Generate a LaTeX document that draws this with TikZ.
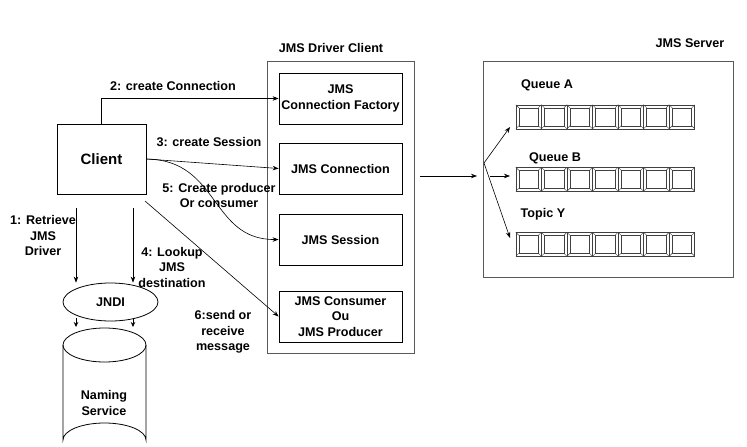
\documentclass[tikz,border=0pt]{standalone}
\usepackage{fontspec}
\setmainfont{Liberation Sans}
\usetikzlibrary{arrows.meta,shapes.geometric,calc}
\begin{document}
\begin{tikzpicture}[x=1pt,y=-1pt,
  lbl/.style={font=\bfseries\fontsize{12.6}{15.5}\selectfont,align=center,inner sep=0pt},
  boxn/.style={draw,line width=0.8pt,minimum width=123pt,minimum height=51pt,inner sep=0pt,align=center,font=\bfseries\fontsize{12.6}{15.5}\selectfont},
  outer/.style={draw=black!65,line width=0.8pt,inner sep=0pt},
  conn/.style={line width=0.6pt,-{Stealth[length=6pt,width=4.5pt]}},
  tiny/.style={line width=0.6pt,-{Stealth[length=5pt,width=4.5pt]}},
  qbox/.style={minimum width=179pt,minimum height=24pt,inner sep=0pt}
]
\useasboundingbox (0,0) rectangle (747,447);
\fill[white] (0,0) rectangle (747,447);

% Client
\node[draw,line width=0.8pt,minimum width=89pt,minimum height=70pt,inner sep=0pt,font=\bfseries\fontsize{15}{18}\selectfont] (client) at (101.5,159) {Client};

% JMS driver client
\node[outer,minimum width=147pt,minimum height=292pt] (driver) at (340.5,207) {};
\node[lbl] (drvlbl) at (331,48) {JMS Driver Client};
\node[boxn] (factory) at (340.5,98.5) {JMS\\Connection Factory};
\node[boxn] (conn) at (340.5,168.5) {JMS Connection};
\node[boxn] (session) at (340.5,239.5) {JMS Session};
\node[boxn] (consumer) at (340.5,316.5) {JMS Consumer\\Ou\\JMS Producer};

% JMS server
\node[outer,minimum width=250pt,minimum height=216pt] (server) at (608,169) {};
\node[lbl] (srvlbl) at (690,43) {JMS Server};
\node[qbox] (qA) at (605.5,117) {};
\node[qbox] (qB) at (605.5,179.5) {};
\node[qbox] (qT) at (605.5,244.5) {};
\node[lbl] (qAl) at (547,85) {Queue A};
\node[lbl] (qBl) at (555,158) {Queue B};
\node[lbl] (qTl) at (543,214) {Topic Y};

\foreach \q in {qA,qB,qT}{
  \foreach \i in {0,...,6}{
    \path ($(\q.north west)+(\i*25.57,0)$) coordinate (o1) ++(25.57,24) coordinate (o2);
    \path ($(o1)+(3,3)$) coordinate (i1) ($(o2)+(-3,-3)$) coordinate (i2);
    \draw[black!75,line width=0.6pt] (o1) rectangle (o2);
    \draw[black!75,line width=0.6pt] (i1) rectangle (i2);
    \draw[black!75,line width=0.4pt] (o1) -- (i1) (o2) -- (i2)
      (o1 -| o2) -- (i1 -| i2) (o1 |- o2) -- (i1 |- i2);
  }
}

% JNDI and naming service
\node[draw,ellipse,line width=0.8pt,minimum width=95pt,minimum height=38pt,inner sep=0pt,font=\bfseries\fontsize{12.6}{15.5}\selectfont] (jndi) at (110.5,302) {JNDI};
\draw[line width=0.8pt] (63,345) arc[start angle=180,end angle=540,x radius=41.5pt,y radius=-17pt];
\draw[line width=0.8pt] (63,345) -- (63,440) arc[start angle=180,end angle=360,x radius=41.5pt,y radius=-17pt] -- (146,345);
\node[lbl] (naming) at (104,403) {Naming\\Service};

% coordinates
\coordinate (c1) at (76,208);
\coordinate (c4) at (133,208);
\coordinate (c6) at (145,201);
\coordinate (cylA) at (76,327);
\coordinate (cylB) at (133,327);
\coordinate (dout) at (420,176);
\coordinate (sin) at (477,176);
\coordinate (fork) at (484,163);
\coordinate (bstart) at (490,176);
\coordinate (tA) at (510,127);
\coordinate (tB) at (510,176);
\coordinate (tT) at (510,238);

% connectors
\draw[conn] (client.north) |- (factory.west);
\draw[conn] (client.east) -- (conn.west);
\draw[conn] (client.east) .. controls (220,160) and (210,240) .. (session.west);
\draw[conn] (c6) -- (consumer.west);
\draw[conn] (c1) -- (c1 |- jndi.north);
\draw[conn] (c4) -- (c4 |- jndi.north);
\draw[tiny] ($(jndi.south -| cylA)+(0,-3)$) -- (cylA);
\draw[tiny] ($(jndi.south -| cylB)+(0,-3)$) -- (cylB);
\draw[conn] (dout) -- (sin);
\draw[conn] (fork) -- (tA);
\draw[conn] (fork) -- (tT);
\draw[conn] (bstart) -- (tB);

% labels
\node[lbl] (l2) at (173,86) {2: create Connection};
\node[lbl] (l3) at (209,142) {3: create Session};
\node[lbl] (l5) at (219,195.5) {5: Create producer\\Or consumer};
\node[lbl] (l6) at (223,332) {6:send or\\receive\\message};
\node[lbl] (l1) at (43,235.5) {1: Retrieve\\JMS\\Driver};
\node[lbl] (l4) at (172,267) {4: Lookup\\JMS\\destination};
\end{tikzpicture}
\end{document}
